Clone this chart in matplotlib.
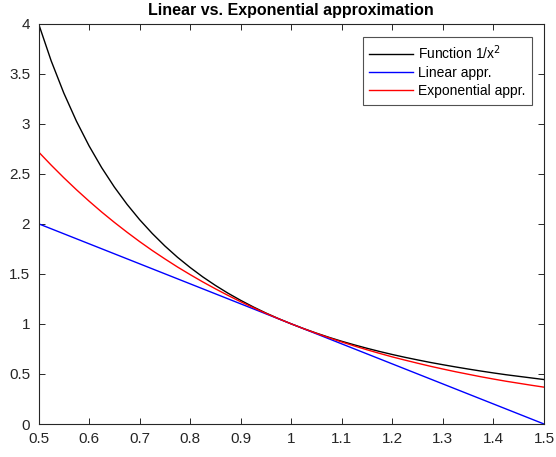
import matplotlib.pyplot as plt

plt.rcParams['font.family'] = ['Liberation Sans', 'DejaVu Sans']

# sample points on [0.5, 1.5]
x = [0.500, 0.525, 0.550, 0.575, 0.600, 0.625, 0.650, 0.675, 0.700, 0.725,
     0.750, 0.775, 0.800, 0.825, 0.850, 0.875, 0.900, 0.925, 0.950, 0.975,
     1.000, 1.025, 1.050, 1.075, 1.100, 1.125, 1.150, 1.175, 1.200, 1.225,
     1.250, 1.275, 1.300, 1.325, 1.350, 1.375, 1.400, 1.425, 1.450, 1.475,
     1.500]

# 1/x^2
f_vals = [4.000, 3.628, 3.306, 3.025, 2.778, 2.560, 2.367, 2.195, 2.041, 1.903,
          1.778, 1.665, 1.563, 1.469, 1.384, 1.306, 1.235, 1.169, 1.108, 1.052,
          1.000, 0.952, 0.907, 0.865, 0.826, 0.790, 0.756, 0.724, 0.694, 0.666,
          0.640, 0.615, 0.592, 0.570, 0.549, 0.529, 0.510, 0.492, 0.476, 0.460,
          0.444]

# tangent line at x = 1
lin_vals = [2.00, 1.95, 1.90, 1.85, 1.80, 1.75, 1.70, 1.65, 1.60, 1.55,
            1.50, 1.45, 1.40, 1.35, 1.30, 1.25, 1.20, 1.15, 1.10, 1.05,
            1.00, 0.95, 0.90, 0.85, 0.80, 0.75, 0.70, 0.65, 0.60, 0.55,
            0.50, 0.45, 0.40, 0.35, 0.30, 0.25, 0.20, 0.15, 0.10, 0.05,
            0.00]

# exponential approximation
exp_vals = [2.718, 2.586, 2.460, 2.340, 2.226, 2.117, 2.014, 1.916, 1.822, 1.733,
            1.649, 1.568, 1.492, 1.419, 1.350, 1.284, 1.221, 1.162, 1.105, 1.051,
            1.000, 0.951, 0.905, 0.861, 0.819, 0.779, 0.741, 0.705, 0.670, 0.638,
            0.607, 0.577, 0.549, 0.522, 0.497, 0.472, 0.449, 0.427, 0.407, 0.387,
            0.368]

xticks = [0.5, 0.6, 0.7, 0.8, 0.9, 1.0, 1.1, 1.2, 1.3, 1.4, 1.5]
xticklabels = ['0.5', '0.6', '0.7', '0.8', '0.9', '1', '1.1', '1.2', '1.3', '1.4', '1.5']
yticks = [0, 0.5, 1, 1.5, 2, 2.5, 3, 3.5, 4]
yticklabels = ['0', '0.5', '1', '1.5', '2', '2.5', '3', '3.5', '4']

fig = plt.figure(figsize=(5.56, 4.57), dpi=100)
ax = fig.add_axes([38.5 / 556, 1 - 424 / 457, (544 - 38.5) / 556, (424 - 23.5) / 457])

ax.plot(x, f_vals, color='black', lw=1.0, label='Function 1/x$^2$')
ax.plot(x, lin_vals, color='blue', lw=1.0, label='Linear appr.')
ax.plot(x, exp_vals, color='red', lw=1.0, label='Exponential appr.')

ax.set_xlim(0.5, 1.5)
ax.set_ylim(0, 4)
ax.set_xticks(xticks)
ax.set_xticklabels(xticklabels)
ax.set_yticks(yticks)
ax.set_yticklabels(yticklabels)

ax.tick_params(direction='in', top=True, right=True, length=4, width=0.7,
               colors='#262626', labelsize=11)
ax.tick_params(axis='x', pad=6)
ax.tick_params(axis='y', pad=6)
for lbl in ax.get_yticklabels():
    lbl.set_verticalalignment('center_baseline')
for s in ax.spines.values():
    s.set_color('#262626')
    s.set_linewidth(0.8)

ax.set_title('Linear vs. Exponential approximation', fontsize=11.5, fontweight='bold', pad=6)

leg = ax.legend(loc='upper right', bbox_to_anchor=(0.976, 0.966), borderaxespad=0,
                fancybox=False, edgecolor='#262626', fontsize=10, handlelength=3.2,
                borderpad=0.45, labelspacing=0.3, handletextpad=0.35)
leg.get_frame().set_linewidth(0.8)

fig.savefig('out.png', dpi=100)
